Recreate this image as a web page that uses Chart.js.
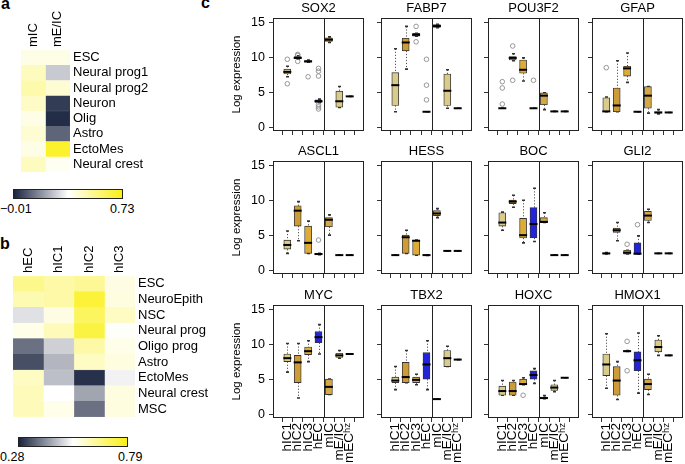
<!DOCTYPE html>
<html>
<head>
<meta charset="utf-8">
<script src="https://cdn.jsdelivr.net/npm/chart.js@4"></script>
<style>
body { margin:0; width:685px; height:464px; overflow:hidden; background:#fff; position:relative;
       font-family:"Liberation Sans", Arial, sans-serif; }
.lab { position:absolute; font-weight:bold; font-size:16px; line-height:16px; }
.cb  { position:absolute; height:8px; border:1px solid #222; }
.cbt { position:absolute; font-size:12.5px; line-height:14px; }
</style>
</head>
<body>
<div class="lab" style="left:1px;top:-4px">a</div>
<div class="lab" style="left:0px;top:236px">b</div>
<div class="lab" style="left:201px;top:-5px">c</div>
<div class="cb" id="cbA" style="left:13px;top:189px;width:108px"></div>
<div class="cbt" style="left:0px;top:202px">−0.01</div>
<div class="cbt" style="left:110px;top:202px">0.73</div>
<div class="cb" id="cbB" style="left:18px;top:437px;width:108px"></div>
<div class="cbt" style="left:0px;top:450px">0.28</div>
<div class="cbt" style="left:118px;top:450px">0.79</div>
<script>
// ---- heatmap a ----
var hmaRows = ['ESC','Neural prog1','Neural prog2','Neuron','Olig','Astro','EctoMes','Neural crest'];
var hmaCols = ['mIC','mE/IC'];
var hma_mIC  = [0.40, 0.46, 0.49, 0.45, 0.40, 0.43, 0.40, 0.46];
var hma_mEIC = [0.40, 0.27, 0.43, 0.03, 0.005, 0.10, 0.69, 0.38];
var hmaRange = [-0.01, 0.73];

// ---- heatmap b ----
var hmbRows = ['ESC','NeuroEpith','NSC','Neural prog','Oligo prog','Astro','EctoMes','Neural crest','MSC'];
var hmbCols = ['hEC','hIC1','hIC2','hIC3'];
var hmb_hEC  = [0.66, 0.62, 0.50, 0.56, 0.37, 0.33, 0.60, 0.61, 0.61];
var hmb_hIC1 = [0.63, 0.63, 0.565, 0.61, 0.48, 0.45, 0.46, 0.535, 0.56];
var hmb_hIC2 = [0.65, 0.75, 0.71, 0.74, 0.63, 0.60, 0.295, 0.43, 0.37];
var hmb_hIC3 = [0.565, 0.57, 0.60, 0.54, 0.56, 0.57, 0.52, 0.57, 0.57];
var hmbRange = [0.28, 0.79];

// ---- boxplots: [low whisker, q1, median, q3, high whisker] per group ----
var groups = ['hIC1','hIC2','hIC3','hEC','mIC','mE/IC','mECʰᶻ'];
var groupColors = ['#d9cb8b','#cd9c38','#ddab36','#2323da','#d5a845','#d9cb8b','#d9cb8b'];

var SOX2 = [[7.3,7.7,8.0,8.4,8.8],[9.8,9.9,10.0,10.2,10.3],[9.4,9.4,9.5,9.6,9.7],[3.6,3.65,3.8,4.0,4.1],
            [12.2,12.35,12.6,12.85,13.0],[2.9,2.95,3.8,5.25,5.9],[4.5,4.5,4.5,4.5,4.5]];
var SOX2_out = [[9.8,6.3],[10.5,10.35,9.5],[7.3],[8.5,8.1,7.4,3.3,3.0,2.7],[],[],[]];
var FABP7 = [[2.3,3.2,6.1,7.9,11.3],[8.4,11.0,12.2,12.8,14.5],[13.1,13.1,13.3,13.5,13.5],[2.3,2.3,2.3,2.3,2.3],
             [14.3,14.35,14.55,14.75,14.8],[2.8,3.2,5.3,7.7,8.3],[2.8,2.8,2.8,2.8,2.8]];
var FABP7_out = [[],[],[14.5,12.3],[9.8,6.1,4.0],[],[],[]];
var POU3F2 = [[2.8,2.8,2.8,2.8,2.8],[9.6,9.7,10.0,10.2,10.6],[6.7,7.8,8.3,9.7,10.0],[2.8,2.8,2.8,2.8,2.8],
              [2.6,3.3,4.6,5.0,5.0],[2.35,2.35,2.35,2.35,2.35],[2.35,2.35,2.35,2.35,2.35]];
var POU3F2_out = [[6.6,5.7,3.4],[11.7,6.8],[],[6.8],[],[],[]];
var GFAP = [[2.3,2.3,2.35,4.3,4.4],[2.3,2.3,3.2,5.7,9.6],[6.5,7.4,8.5,8.8,10.7],[2.3,2.3,2.3,2.3,2.3],
            [2.1,2.8,4.6,5.9,5.9],[2.0,2.1,2.2,2.3,2.6],[2.2,2.2,2.2,2.2,2.2]];
var GFAP_out = [[8.6],[],[],[],[],[],[]];
var ASCL1 = [[2.5,3.1,3.7,4.4,5.7],[4.3,6.4,8.6,9.3,9.9],[2.5,2.5,4.0,6.4,7.1],[2.3,2.3,2.4,2.5,2.5],
             [5.1,6.3,7.3,7.6,8.0],[2.25,2.25,2.25,2.25,2.25],[2.25,2.25,2.25,2.25,2.25]];
var ASCL1_out = [[],[],[],[4.4],[],[],[]];
var HESS = [[2.25,2.25,2.25,2.25,2.25],[2.5,2.5,4.8,5.1,5.8],[2.25,2.25,4.3,4.4,4.4],[2.2,2.2,2.25,2.3,2.3],
            [7.6,7.9,8.2,8.6,8.9],[2.85,2.85,2.85,2.85,2.85],[2.85,2.85,2.85,2.85,2.85]];
var HESS_out = [[],[],[],[],[],[],[]];
var BOC = [[5.8,6.4,6.9,8.3,8.4],[9.1,9.6,9.9,10.1,10.8],[4.0,4.7,5.1,7.5,10.1],[4.2,4.7,6.7,9.05,11.8],
           [6.9,6.9,7.0,7.6,8.3],[2.25,2.25,2.25,2.25,2.25],[2.25,2.25,2.25,2.25,2.25]];
var BOC_out = [[],[],[],[],[],[],[]];
var GLI2 = [[2.4,2.4,2.5,2.55,2.6],[4.3,5.5,5.8,6.1,6.9],[2.4,2.4,2.6,2.95,2.95],[2.4,2.4,2.45,4.0,5.0],
            [6.9,7.2,7.9,8.5,8.8],[2.5,2.5,2.5,2.5,2.5],[2.5,2.5,2.5,2.5,2.5]];
var GLI2_out = [[],[],[3.8],[6.6],[],[],[]];
var MYC = [[6.1,7.6,8.1,8.7,10.2],[2.4,4.6,7.5,8.5,10.2],[7.6,8.6,9.1,9.7,10.6],[8.7,10.3,11.1,11.9,12.9],
           [2.9,2.9,4.0,5.1,5.1],[8.1,8.2,8.5,8.8,9.2],[8.7,8.7,8.7,8.7,8.7]];
var MYC_out = [[],[],[],[],[],[],[]];
var TBX2 = [[3.6,4.6,4.9,5.4,6.9],[4.6,4.6,5.4,7.5,9.2],[4.3,4.6,5.0,5.4,5.8],[3.6,5.1,7.2,8.9,10.6],
            [2.25,2.25,2.25,2.25,2.25],[6.9,6.9,8.1,9.2,9.8],[7.9,7.9,7.9,7.9,7.9]];
var TBX2_out = [[],[],[],[],[],[],[]];
var HOXC = [[2.8,2.8,3.4,4.1,4.9],[2.8,2.8,3.4,4.7,4.9],[4.3,4.3,4.4,5.1,5.3],[4.5,5.1,5.7,6.3,6.6],
            [2.3,2.3,2.4,2.55,2.75],[3.3,3.5,3.9,4.3,4.9],[5.3,5.3,5.3,5.3,5.3]];
var HOXC_out = [[],[],[2.8],[],[],[],[]];
var HMOX1 = [[3.8,5.6,7.2,8.7,11.6],[2.2,2.8,4.9,6.9,7.6],[9.05,9.05,9.1,9.2,9.2],[3.1,6.3,7.8,9.0,11.7],
             [2.9,3.6,4.4,5.1,5.8],[8.5,9.0,9.7,10.7,11.3],[8.5,8.5,8.5,8.5,8.5]];
var HMOX1_out = [[],[],[10.5,6.3],[],[],[],[]];

var genes = ['SOX2','FABP7','POU3F2','GFAP','ASCL1','HESS','BOC','GLI2','MYC','TBX2','HOXC','HMOX1'];
var geneStats = [SOX2, FABP7, POU3F2, GFAP, ASCL1, HESS, BOC, GLI2, MYC, TBX2, HOXC, HMOX1];
var geneOut = [SOX2_out, FABP7_out, POU3F2_out, GFAP_out, ASCL1_out, HESS_out, BOC_out, GLI2_out,
               MYC_out, TBX2_out, HOXC_out, HMOX1_out];

var FONT = '"Liberation Sans", Arial, sans-serif';
Chart.defaults.font.family = FONT;
Chart.defaults.color = '#000';
Chart.defaults.animation = false;
Chart.defaults.events = [];

var NAVY = [26, 36, 64], WHITE = [255, 255, 255], YELLOW = [250, 240, 20];

function heatColor(v, range) {
	var t = (v - range[0]) / (range[1] - range[0]);
	t = Math.max(0, Math.min(1, t));
	var a = t < 0.5 ? NAVY : WHITE, b = t < 0.5 ? WHITE : YELLOW;
	var u = t < 0.5 ? t / 0.5 : (t - 0.5) / 0.5;
	var c = [0, 1, 2].map(function(k) { return Math.round(a[k] + (b[k] - a[k]) * u); });
	return 'rgb(' + c.join(',') + ')';
}

function addCanvas(left, top, w, h) {
	var c = document.createElement('canvas');
	c.width = w; c.height = h;
	c.style.cssText = 'position:absolute;left:' + left + 'px;top:' + top + 'px;width:' + w + 'px;height:' + h + 'px';
	document.body.appendChild(c);
	return c.getContext('2d');
}

// column names written upward above the heatmap, placed with the x scale
var colLabels = {
	id: 'colLabels',
	afterDraw: function(chart, args, opts) {
		var ctx = chart.ctx, x = chart.scales.x, top = chart.chartArea.top;
		ctx.save();
		ctx.font = '13px ' + FONT; ctx.fillStyle = '#000';
		ctx.textAlign = 'left'; ctx.textBaseline = 'middle';
		opts.names.forEach(function(n, j) {
			ctx.save();
			ctx.translate(x.getPixelForValue(j + 0.5), top - 3);
			ctx.rotate(-Math.PI / 2);
			ctx.fillText(n, 0, 0);
			ctx.restore();
		});
		ctx.restore();
	}
};

function heatChart(left, top, w, h, rows, cols, colVals, range, padLeft, topH, rightW) {
	var ctx = addCanvas(left, top, w, h);
	new Chart(ctx, {
		type: 'bar',
		data: {
			labels: rows,
			datasets: cols.map(function(c, j) {
				var colors = colVals[j].map(function(v) { return heatColor(v, range); });
				return {
					data: rows.map(function() { return [j, j + 1]; }),
					backgroundColor: colors, borderColor: colors, borderWidth: 0.5,
					borderSkipped: false, grouped: false, barPercentage: 1, categoryPercentage: 1
				};
			})
		},
		plugins: [colLabels],
		options: {
			indexAxis: 'y', responsive: false,
			layout: { padding: { left: padLeft, bottom: 11, top: 0, right: 0 } },
			plugins: { legend: { display: false }, tooltip: { enabled: false }, colLabels: { names: cols } },
			scales: {
				x: {
					type: 'linear', position: 'top', min: 0, max: cols.length,
					afterFit: function(s) { s.height = topH; },
					grid: { display: false, drawTicks: false }, border: { display: false },
					ticks: { display: false }
				},
				y: {
					position: 'right', grid: { display: false, drawTicks: false }, border: { display: false },
					afterFit: function(s) { s.width = rightW; },
					ticks: { autoSkip: false, padding: 3, font: { size: 13 } }
				}
			}
		}
	});
}

// whiskers, medians, divider and frame
var boxPlot = {
	id: 'boxPlot',
	beforeDatasetsDraw: function(chart, args, opts) {
		var ctx = chart.ctx, x = chart.scales.x, y = chart.scales.y;
		ctx.save();
		opts.stats.forEach(function(s, i) {
			var px = Math.round(x.getPixelForValue(i + 1)) + 0.5;
			ctx.strokeStyle = '#555'; ctx.lineWidth = 1; ctx.setLineDash([1.2, 1.8]);
			ctx.beginPath();
			ctx.moveTo(px, y.getPixelForValue(s[4])); ctx.lineTo(px, y.getPixelForValue(s[3]));
			ctx.moveTo(px, y.getPixelForValue(s[1])); ctx.lineTo(px, y.getPixelForValue(s[0]));
			ctx.stroke();
			ctx.setLineDash([]); ctx.strokeStyle = '#333'; ctx.lineWidth = 1.6;
			ctx.beginPath();
			[s[0], s[4]].forEach(function(v) {
				var py = y.getPixelForValue(v);
				ctx.moveTo(px - 1.5, py); ctx.lineTo(px + 1.5, py);
			});
			ctx.stroke();
		});
		ctx.restore();
	},
	afterDatasetsDraw: function(chart, args, opts) {
		var ctx = chart.ctx, x = chart.scales.x, y = chart.scales.y, a = chart.chartArea;
		ctx.save();
		ctx.strokeStyle = '#000'; ctx.lineWidth = 2;
		opts.stats.forEach(function(s, i) {
			var px = x.getPixelForValue(i + 1), py = y.getPixelForValue(s[2]);
			ctx.beginPath(); ctx.moveTo(px - 4, py); ctx.lineTo(px + 4, py); ctx.stroke();
		});
		ctx.lineWidth = 1; ctx.strokeStyle = '#222';
		var dx = Math.round(x.getPixelForValue(4.5)) + 0.5;
		ctx.beginPath(); ctx.moveTo(dx, a.top); ctx.lineTo(dx, a.bottom); ctx.stroke();
		ctx.strokeRect(Math.round(a.left) + 0.5, Math.round(a.top) + 0.5,
			Math.round(a.right - a.left) - 1, Math.round(a.bottom - a.top) - 1);
		ctx.restore();
	}
};

var colLeft = [273, 381, 488, 592], rowTop = [18, 161, 305], boxW = 91, boxH = 113, axisW = 47;

function boxPanel(k) {
	var col = k % 4, row = Math.floor(k / 4), bottom = row === 2;
	var stats = geneStats[k], outs = geneOut[k];
	var ctx = addCanvas(colLeft[col] - axisW, rowTop[row] - 17, axisW + boxW + 12, 17 + boxH + (bottom ? 52 : 12));
	var pts = [];
	outs.forEach(function(o, i) { o.forEach(function(v) { pts.push({ x: i + 1, y: v }); }); });
	new Chart(ctx, {
		type: 'bar',
		data: {
			datasets: [{
				type: 'bar',
				data: stats.map(function(s, i) { return { x: i + 1, y: [s[1], s[3]] }; }),
				backgroundColor: groupColors, borderColor: '#333', borderWidth: 0.9,
				borderSkipped: false, barThickness: 7
			}, {
				type: 'scatter', data: pts, pointStyle: 'circle', pointRadius: 2.3,
				borderColor: '#8c8c8c', backgroundColor: 'rgba(0,0,0,0)', borderWidth: 0.9
			}]
		},
		plugins: [boxPlot],
		options: {
			responsive: false,
			layout: { padding: { left: 0, top: 0, right: 12, bottom: 0 } },
			plugins: {
				legend: { display: false }, tooltip: { enabled: false },
				title: { display: true, text: genes[k], fullSize: false, font: { size: 13, weight: 'normal' },
					padding: { top: 0, bottom: 1.4 } },
				boxPlot: { stats: stats }
			},
			scales: {
				x: {
					type: 'linear', min: 0.25, max: 7.75,
					afterBuildTicks: function(s) { s.ticks = groups.map(function(g, i) { return { value: i + 1 }; }); },
					afterFit: function(s) { s.height = bottom ? 52 : 12; },
					grid: { display: true, drawOnChartArea: false, tickLength: 4, color: '#333' },
					border: { display: false },
					ticks: { display: bottom, autoSkip: false, minRotation: 90, maxRotation: 90, padding: 1,
						font: { size: 13.5 }, callback: function(v, i) { return groups[i]; } }
				},
				y: {
					type: 'linear', min: -0.45, max: 15.7,
					afterBuildTicks: function(s) { s.ticks = [0, 5, 10, 15].map(function(v) { return { value: v }; }); },
					afterFit: function(s) { s.width = axisW; },
					grid: { display: true, drawOnChartArea: false, tickLength: 4, color: '#333' },
					border: { display: false },
					ticks: { display: col === 0, padding: 4, font: { size: 12.5 } },
					title: { display: col === 0, text: 'Log expression', font: { size: 11.5 }, padding: { top: 4, bottom: 0 } }
				}
			}
		}
	});
}

heatChart(0, 2, 200, 181, hmaRows, hmaCols, [hma_mIC, hma_mEIC], hmaRange, 21, 48, 130);
heatChart(0, 200, 220, 228, hmbRows, hmbCols, [hmb_hEC, hmb_hIC1, hmb_hIC2, hmb_hIC3], hmbRange, 13, 76, 85);

var grad = 'linear-gradient(to right, rgb(' + NAVY.join(',') + '), rgb(255,255,255), rgb(' + YELLOW.join(',') + '))';
document.getElementById('cbA').style.background = grad;
document.getElementById('cbB').style.background = grad;

for (var k = 0; k < genes.length; k++) boxPanel(k);
</script>
</body>
</html>
